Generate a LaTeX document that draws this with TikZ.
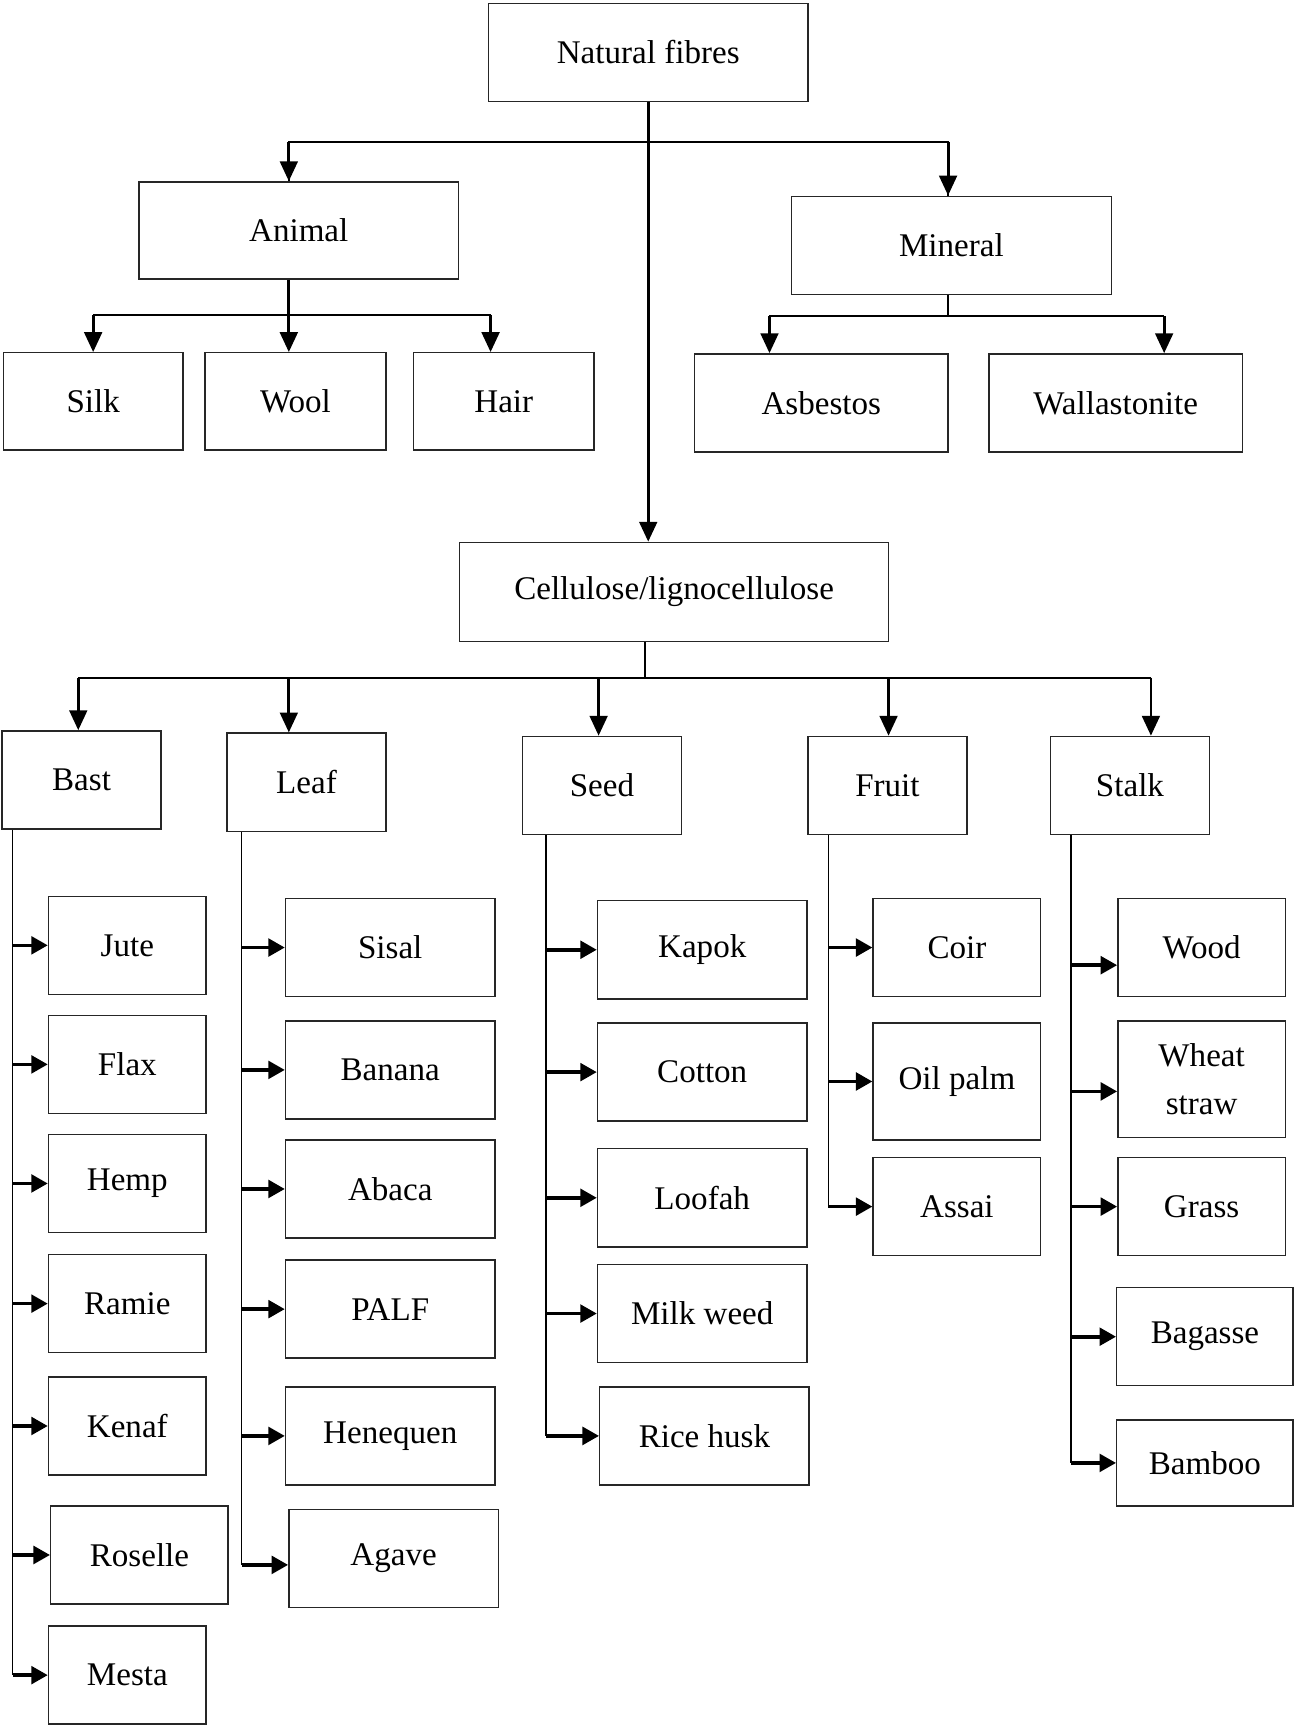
\documentclass[tikz,border=0pt]{standalone}
\usepackage{fontspec}
\setmainfont{Liberation Serif}
\usetikzlibrary{arrows.meta,calc}
\tikzset{
  fbox/.style={draw=black!85, line width=1.3pt, inner sep=0pt, align=center,
    font=\fontsize{30}{43}\selectfont},
  arr/.style={line width=2.6pt, -{Triangle[length=18pt,width=16pt]}},
  tline/.style={line width=2pt},
  thinl/.style={line width=1.2pt},
  sarr/.style={line width=3.3pt, -{Triangle[length=15pt,width=16pt]}},
}
\newcommand{\bx}[6]{\node[fbox, minimum width={(#4-#2)*1pt}, minimum height={(#5-#3)*1pt}] (#1) at ({(#2+#4)/2},{-(#3+#5)/2}) {#6};}
\begin{document}
\begin{tikzpicture}[x=1pt,y=1pt]
\useasboundingbox (0,0) rectangle (1180,-1572);
% boxes
\bx{NF}{443}{3}{733}{92}{Natural fibres}
\bx{Animal}{126}{165}{416}{253}{Animal}
\bx{Mineral}{718}{178}{1008}{267}{Mineral}
\bx{Silk}{3}{320}{166}{408}{Silk}
\bx{Wool}{186}{320}{350}{408}{Wool}
\bx{Hair}{375}{320}{539}{408}{Hair}
\bx{Asb}{630}{321}{860}{410}{Asbestos}
\bx{Wall}{897}{321}{1127}{410}{Wallastonite}
\bx{Cell}{417}{492}{806}{582}{Cellulose/lignocellulose}
\bx{Bast}{2}{663}{146}{752}{Bast}
\bx{Leaf}{206}{665}{350}{754}{Leaf}
\bx{Seed}{474}{668}{618}{757}{Seed}
\bx{Fruit}{733}{668}{877}{757}{Fruit}
\bx{Stalk}{953}{668}{1097}{757}{Stalk}
\bx{Jute}{44}{813}{187}{902}{Jute}
\bx{Flax}{44}{921}{187}{1010}{Flax}
\bx{Hemp}{44}{1029}{187}{1118}{Hemp}
\bx{Ramie}{44}{1138}{187}{1227}{Ramie}
\bx{Kenaf}{44}{1249}{187}{1338}{Kenaf}
\bx{Roselle}{46}{1366}{207}{1455}{Roselle}
\bx{Mesta}{44}{1475}{187}{1564}{Mesta}
\bx{Sisal}{259}{815}{449}{904}{Sisal}
\bx{Banana}{259}{926}{449}{1015}{Banana}
\bx{Abaca}{259}{1034}{449}{1123}{Abaca}
\bx{PALF}{259}{1143}{449}{1232}{PALF}
\bx{Henequen}{259}{1258}{449}{1347}{Henequen}
\bx{Agave}{262}{1369}{452}{1458}{Agave}
\bx{Kapok}{542}{817}{732}{906}{Kapok}
\bx{Cotton}{542}{928}{732}{1017}{Cotton}
\bx{Loofah}{542}{1042}{732}{1131}{Loofah}
\bx{Milk}{542}{1147}{732}{1236}{Milk weed}
\bx{Rice}{544}{1258}{734}{1347}{Rice husk}
\bx{Coir}{792}{815}{944}{904}{Coir}
\bx{Oil}{792}{928}{944}{1034}{Oil palm}
\bx{Assai}{792}{1050}{944}{1139}{Assai}
\bx{Wood}{1014}{815}{1166}{904}{Wood}
\bx{Wheat}{1014}{926}{1166}{1032}{Wheat\\straw}
\bx{Grass}{1014}{1050}{1166}{1139}{Grass}
\bx{Bagasse}{1013}{1168}{1173}{1257}{Bagasse}
\bx{Bamboo}{1013}{1288}{1173}{1366}{Bamboo}
% top level
\draw[arr, line width=2.8pt] (NF.south) -- (NF.south |- Cell.north);
\coordinate (j1) at ($(NF.south)+(0,-36)$);
\draw[tline] (j1) -| ($(Animal.north)+(-9,0)$);
\draw[tline] (j1) -| ($(Mineral.north)+(-3,0)$);
\draw[arr] (j1 -| {$(Animal.north)+(-9,0)$}) -- ($(Animal.north)+(-9,0)$);
\draw[arr] (j1 -| {$(Mineral.north)+(-3,0)$}) -- ($(Mineral.north)+(-3,0)$);
% animal
\coordinate (aS) at ($(Animal.south)+(-9,0)$);
\draw[arr] (aS) -- (aS |- Wool.north);
\coordinate (j2) at ($(aS)+(0,-32)$);
\draw[tline] (j2 -| Silk.north) -- (j2 -| {$(Hair.north)+(-12,0)$});
\draw[arr] (j2 -| Silk.north) -- (Silk.north);
\draw[arr] (j2 -| {$(Hair.north)+(-12,0)$}) -- ($(Hair.north)+(-12,0)$);
% mineral
\coordinate (mS) at ($(Mineral.south)+(-3,0)$);
\coordinate (j3) at ($(mS)+(0,-19)$);
\draw[thinl] (mS) -- (j3);
\draw[tline] (j3 -| {$(Asb.north)+(-47,0)$}) -- (j3 -| {$(Wall.north)+(44,0)$});
\draw[arr] (j3 -| {$(Asb.north)+(-47,0)$}) -- ($(Asb.north)+(-47,0)$);
\draw[arr] (j3 -| {$(Wall.north)+(44,0)$}) -- ($(Wall.north)+(44,0)$);
% cellulose
\coordinate (cS) at ($(Cell.south)+(-26.5,0)$);
\coordinate (j4) at ($(cS)+(0,-32)$);
\draw[thinl] (cS) -- (j4);
\draw[tline] (j4 -| {$(Bast.north)+(-3,0)$}) -- (j4 -| {$(Stalk.north)+(19,0)$});
\draw[arr] (j4 -| {$(Bast.north)+(-3,0)$}) -- ($(Bast.north)+(-3,0)$);
\draw[arr] (j4 -| {$(Leaf.north)+(-16,0)$}) -- ($(Leaf.north)+(-16,0)$);
\draw[arr] (j4 -| {$(Seed.north)+(-3,0)$}) -- ($(Seed.north)+(-3,0)$);
\draw[arr] (j4 -| {$(Fruit.north)+(1,0)$}) -- ($(Fruit.north)+(1,0)$);
\draw[arr] (j4 -| {$(Stalk.north)+(19,0)$}) -- ($(Stalk.north)+(19,0)$);
% bast column
\coordinate (bL) at ($(Bast.south west)+(10,0)$);
\draw[thinl] (bL) -- (bL |- Mesta.west);
\foreach \n in {Jute,Flax,Hemp,Ramie,Kenaf,Roselle,Mesta}
  \draw[sarr] (bL |- \n.west) -- (\n.west);
% leaf column
\coordinate (lL) at ($(Leaf.south west)+(14,0)$);
\draw[thinl] (lL) -- ($(lL |- Agave.west)+(0,-6)$);
\foreach \n in {Sisal,Banana,Abaca,PALF,Henequen}
  \draw[sarr] (lL |- \n.west) -- (\n.west);
\draw[sarr] ($(lL |- Agave.west)+(0,-6)$) -- ($(Agave.west)+(0,-6)$);
% seed column
\coordinate (sL) at ($(Seed.south west)+(22,0)$);
\draw[thinl] (sL) -- (sL |- Rice.west);
\foreach \n in {Kapok,Cotton,Loofah,Milk,Rice}
  \draw[sarr] (sL |- \n.west) -- (\n.west);
% fruit column
\coordinate (fL) at ($(Fruit.south west)+(19,0)$);
\draw[thinl] (fL) -- (fL |- Assai.west);
\foreach \n in {Coir,Oil,Assai}
  \draw[sarr] (fL |- \n.west) -- (\n.west);
% stalk column
\coordinate (tL) at ($(Stalk.south west)+(19,0)$);
\draw[thinl] (tL) -- (tL |- Bamboo.west);
\draw[sarr] ($(tL |- Wood.west)+(0,-16)$) -- ($(Wood.west)+(0,-16)$);
\draw[sarr] ($(tL |- Wheat.west)+(0,-11)$) -- ($(Wheat.west)+(0,-11)$);
\foreach \n in {Grass,Bagasse,Bamboo}
  \draw[sarr] (tL |- \n.west) -- (\n.west);
\end{tikzpicture}
\end{document}
